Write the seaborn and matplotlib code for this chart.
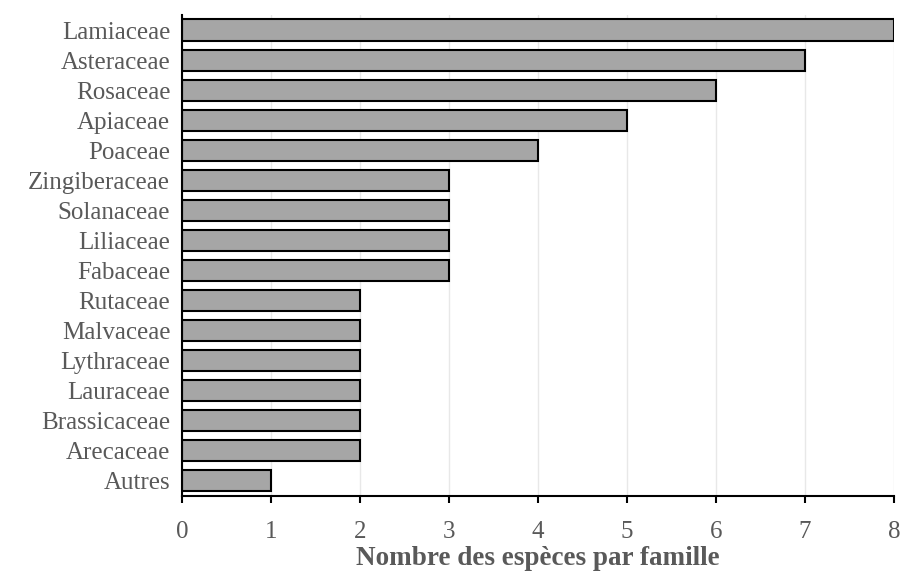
import matplotlib
matplotlib.use("Agg")
import matplotlib.pyplot as plt
import seaborn as sns
import pandas as pd

familles = ["Lamiaceae", "Asteraceae", "Rosaceae", "Apiaceae", "Poaceae",
            "Zingiberaceae", "Solanaceae", "Liliaceae", "Fabaceae", "Rutaceae",
            "Malvaceae", "Lythraceae", "Lauraceae", "Brassicaceae", "Arecaceae",
            "Autres"]
nb_especes = [8, 7, 6, 5, 4, 3, 3, 3, 3, 2, 2, 2, 2, 2, 2, 1]
x_ticks = [0, 1, 2, 3, 4, 5, 6, 7, 8]

df = pd.DataFrame({"famille": familles, "n": nb_especes})

sns.set_theme(style="white")
plt.rcParams["font.family"] = ["Liberation Serif", "DejaVu Serif"]

fig = plt.figure(figsize=(9.03, 5.72), dpi=100)
ax = fig.add_axes([0.2016, 0.1329, 0.7884, 0.8409])

sns.barplot(data=df, x="n", y="famille", orient="h", color="#a6a6a6",
            edgecolor="black", linewidth=1.5, width=0.7, saturation=1, ax=ax)

ax.set_xlim(0, 8)
ax.set_ylim(15.5, -0.5)
ax.set_xticks(x_ticks)
ax.xaxis.grid(True, color="#e8e8e8", linewidth=1)
ax.set_axisbelow(True)

for side in ["top", "right"]:
    ax.spines[side].set_visible(False)
for side in ["left", "bottom"]:
    ax.spines[side].set_color("black")
    ax.spines[side].set_linewidth(1.5)

ax.tick_params(axis="x", which="major", direction="out", length=5, width=1.5,
               color="black", labelsize=18, labelcolor="#595959", pad=13, bottom=True)
ax.tick_params(axis="y", length=0, labelsize=18, labelcolor="#595959", pad=8.5)

ax.set_ylabel("")
ax.set_xlabel("Nombre des espèces par famille", fontsize=19.5, fontweight="bold",
              color="#595959", labelpad=2)

fig.savefig("out.png", dpi=100)
